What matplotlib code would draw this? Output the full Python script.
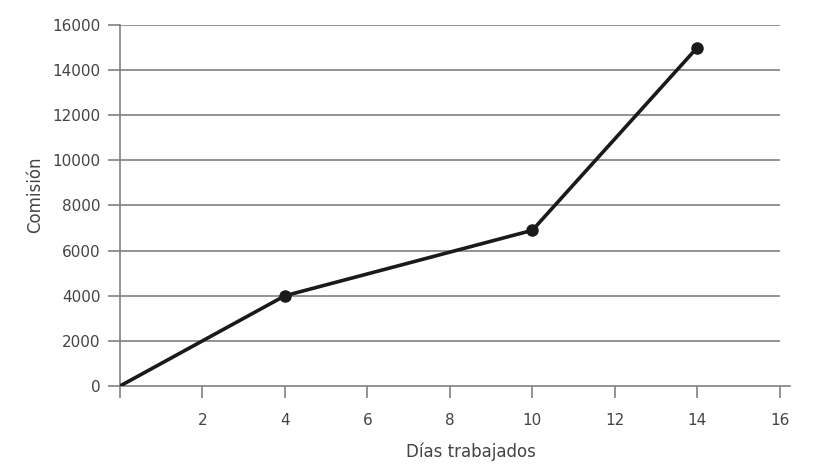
import matplotlib
matplotlib.use("Agg")
import matplotlib.pyplot as plt

# Data
dias = [0, 4, 10, 14]
comision = [0, 4000, 6900, 15000]
x_ticks = [0, 2, 4, 6, 8, 10, 12, 14, 16]
y_ticks = [0, 2000, 4000, 6000, 8000, 10000, 12000, 14000, 16000]

TEXT = "#444444"
GRID = "#808080"

plt.rcParams["font.family"] = ["DejaVu Sans"]

fig = plt.figure(figsize=(8.15, 4.68), dpi=100)
ax = fig.add_axes([120 / 815, 1 - 386 / 468, 670 / 815, 361 / 468])

# horizontal grid lines stop at x = 16
ax.hlines(y_ticks[1:], 0, 16, color=GRID, linewidth=1.2, zorder=1)

ax.plot(dias, comision, color="#1a1a1a", linewidth=2.6, zorder=3)
ax.plot(dias[1:], comision[1:], "o", color="#1a1a1a", markersize=8, zorder=4)

ax.set_xlim(0, 16.25)
ax.set_ylim(0, 16000)
ax.set_xticks(x_ticks)
ax.set_xticklabels([""] + [str(v) for v in x_ticks[1:]])
ax.set_yticks(y_ticks)

for side in ["top", "right"]:
    ax.spines[side].set_visible(False)
for side in ["left", "bottom"]:
    ax.spines[side].set_color(GRID)
    ax.spines[side].set_linewidth(1.2)

ax.tick_params(axis="both", colors=GRID, width=1.2, length=8.6, direction="out",
               labelcolor=TEXT, labelsize=11)
ax.tick_params(axis="x", pad=11)
ax.tick_params(axis="y", pad=5.5)

ax.set_xlabel("Días trabajados", color=TEXT, fontsize=12)
ax.set_ylabel("Comisión", color=TEXT, fontsize=12)
ax.xaxis.set_label_coords(0.524, -0.183)
ax.yaxis.set_label_coords(-0.127, 0.529)
ax.xaxis.label.set_va("center")
ax.yaxis.label.set_va("center")

fig.savefig("out.png", dpi=100)
